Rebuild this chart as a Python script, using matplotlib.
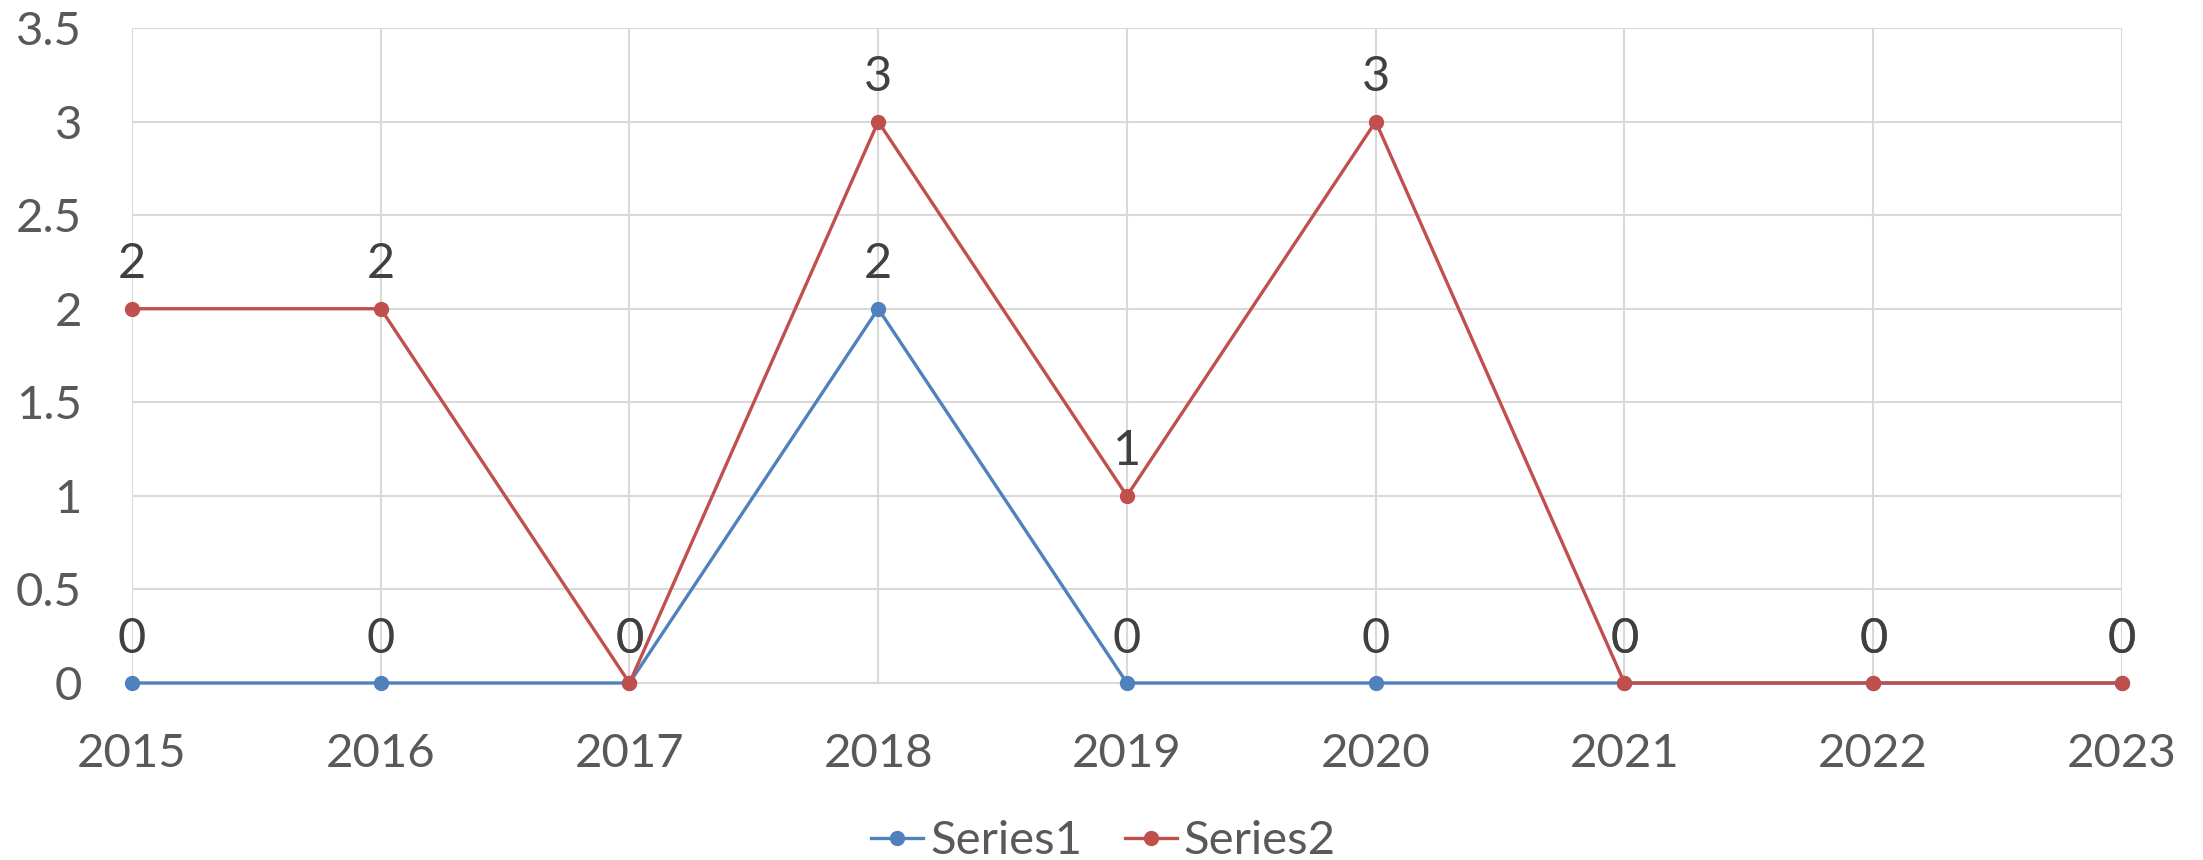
import matplotlib.pyplot as plt

years = [2015, 2016, 2017, 2018, 2019, 2020, 2021, 2022, 2023]
series1 = [0, 0, 0, 2, 0, 0, 0, 0, 0]
series2 = [2, 2, 0, 3, 1, 3, 0, 0, 0]
y_ticks = [0, 0.5, 1, 1.5, 2, 2.5, 3, 3.5]
y_tick_labels = ['0', '0.5', '1', '1.5', '2', '2.5', '3', '3.5']

plt.rcParams['font.family'] = ['Lato', 'DejaVu Sans']

fig = plt.figure(figsize=(22.03, 8.6), dpi=100)
ax = fig.add_axes([0.0599, 0.2058, 0.9033, 0.7616])

blue = '#4f81bd'
red = '#c0504d'

ax.plot(years, series1, color=blue, lw=2.4, marker='o', ms=10, label='Series1', zorder=3)
ax.plot(years, series2, color=red, lw=2.4, marker='o', ms=10, label='Series2', zorder=4)

# data labels above each point, both series
for vals in (series1, series2):
    for x, y in zip(years, vals):
        ax.annotate(str(y), (x, y), xytext=(0, 32), textcoords='offset points',
                    ha='center', va='center', fontsize=35, color='#404040', zorder=5)

ax.set_xlim(2015, 2023)
ax.set_ylim(0, 3.5)
ax.set_xticks(years)
ax.set_xticklabels([str(y) for y in years])
ax.set_yticks(y_ticks)
ax.set_yticklabels(y_tick_labels)
ax.tick_params(axis='both', length=0, labelsize=34, labelcolor='#595959')
ax.tick_params(axis='x', pad=36)
ax.tick_params(axis='y', pad=36)
ax.grid(True, color='#d9d9d9', lw=1.5, zorder=0)
ax.set_axisbelow(True)
for side in ['top', 'right', 'left']:
    ax.spines[side].set_visible(False)
ax.spines['bottom'].set_color('#d9d9d9')
ax.spines['bottom'].set_linewidth(1.5)
for line in ax.get_lines():
    line.set_clip_on(False)

fig.legend(loc='center', bbox_to_anchor=(0.501, 0.022), ncol=2, frameon=False,
           fontsize=34, labelcolor='#595959', handlelength=1.1, handletextpad=0.15,
           columnspacing=0.9)

fig.savefig('out.png', dpi=100)
